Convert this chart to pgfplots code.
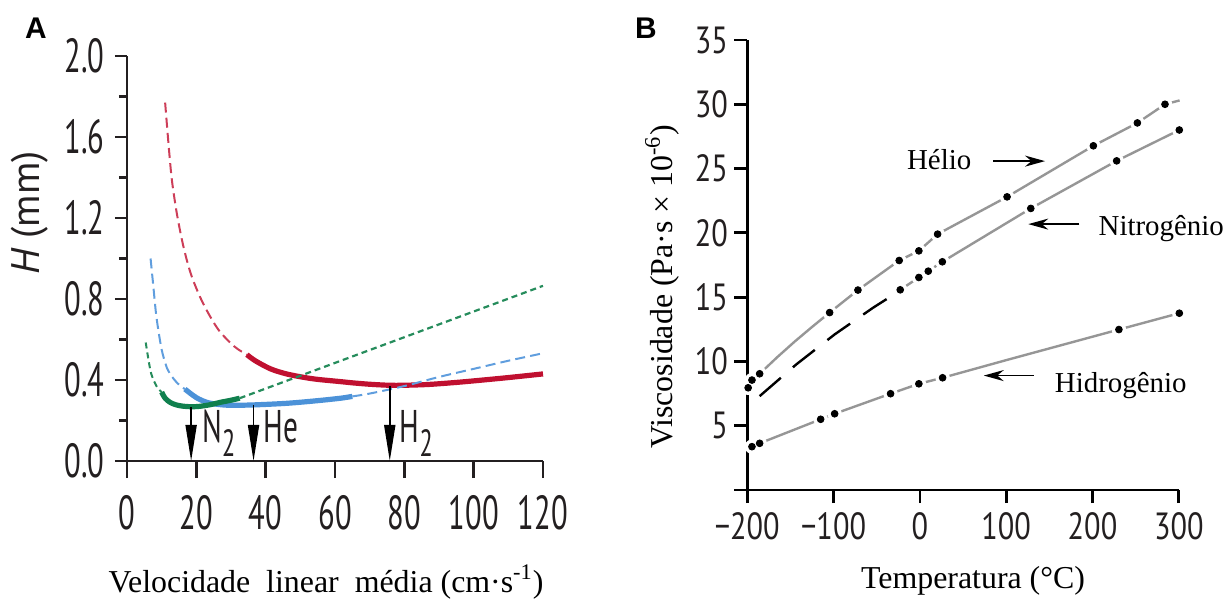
\documentclass[border=0pt]{standalone}
\usepackage{pgfplots}
\pgfplotsset{compat=1.18}
\usepackage{pgfplotstable}
\usepackage{fontspec}
\setmainfont{Liberation Serif}
\newfontfamily\tickA{PT Sans}[FakeStretch=0.64]
\newfontfamily\tickB{PT Sans}[FakeStretch=0.8]
\newfontfamily\sansF{PT Sans}
\newfontfamily\arial{Liberation Sans}
\usetikzlibrary{arrows.meta}

\definecolor{hred}{RGB}{192,16,48}
\definecolor{hredl}{RGB}{205,62,88}
\definecolor{hblue}{RGB}{76,146,216}
\definecolor{hbluel}{RGB}{96,158,222}
\definecolor{hgreen}{RGB}{16,128,78}
\definecolor{hgreenl}{RGB}{38,140,92}
\definecolor{lgray}{RGB}{150,150,150}
\definecolor{tickc}{RGB}{35,31,32}

% Panel B data
\pgfplotstableread{
x y
-200 7.95
-194.6 8.55
-185.7 9.04
-165 10.35
-145 11.55
-125 12.68
-104.6 13.8
-71.8 15.55
-24 17.85
-1.2 18.6
20.5 19.9
101 22.8
201 26.77
252 28.55
284 30.0
301 30.3
}\heline
\pgfplotstableread{
x y
-199 7.95
-194.6 8.55
-185.7 9.04
-104.6 13.8
-71.8 15.55
-24 17.85
-1.2 18.6
20.5 19.9
101 22.8
201 26.77
252 28.55
284 30.0
}\hemarks
\pgfplotstableread{
x y
-22.8 15.57
-1.2 16.53
9.7 17.02
26 17.75
128.5 21.9
228 25.6
300.6 28.0
}\nitro
\pgfplotstableread{
x y
-185.7 7.3
-143.2 9.77
-98.8 12.1
-54.4 14.17
-28 15.3
}\nitrodash
\pgfplotstableread{
x y
-200 3.2
-194.6 3.37
-185.7 3.63
-115 5.5
-98.8 5.93
-34 7.49
-1.2 8.26
26.3 8.73
100 10.1
230.6 12.48
300.6 13.75
}\hyline
\pgfplotstableread{
x y
-194.6 3.37
-185.7 3.63
-115 5.5
-98.8 5.93
-34 7.49
-1.2 8.26
26.3 8.73
230.6 12.48
300.6 13.75
}\hymarks

\begin{document}
\begin{tikzpicture}
\useasboundingbox (0,0) rectangle (612bp,300.5bp);

% ---------------- Panel A ----------------
\begin{axis}[
  at={(63.5bp,70bp)}, anchor=south west, scale only axis,
  width=208bp, height=202.5bp,
  xmin=0, xmax=120, ymin=0, ymax=2.0,
  axis x line*=bottom, axis y line*=left,
  axis line style={line width=1.2bp, tickc},
  tick align=outside,
  minor tick length=4bp,
  xtick={0,20,40,60,80,100,120},
  xticklabels={0,20,40,60,80,100,120},
  ytick={0,0.4,0.8,1.2,1.6,2.0},
  yticklabels={0.0,0.4,0.8,1.2,1.6,2.0},
  minor ytick={0.2,0.6,1.0,1.4,1.8},
  xtick style={/pgfplots/major tick length=8.5bp, line width=1.2bp, tickc},
  ytick style={/pgfplots/major tick length=6bp, line width=1.2bp, tickc},
  xticklabel style={font=\tickA\fontsize{24}{24}\selectfont, text=tickc, yshift=-9.5bp},
  yticklabel style={font=\tickA\fontsize{24}{24}\selectfont, text=tickc, xshift=-3.5bp},
  clip=false,
]
% red (H2)
\addplot[hredl, line width=1bp, dash pattern=on 5bp off 2.6bp, smooth] coordinates {
 (11.0,1.77) (12.1,1.54) (13.0,1.38) (14.5,1.21) (16.4,1.05) (18.6,0.915)
 (21.9,0.78) (26.3,0.65) (31,0.565) (34.6,0.525)};
\addplot[hred, line width=2.6bp, smooth] coordinates {
 (34.6,0.525) (37,0.495) (41.4,0.455) (46,0.43) (51,0.413) (55,0.403) (61.6,0.392)
 (65,0.386) (70,0.379) (75.6,0.374) (80,0.374) (87,0.378) (95,0.388)
 (101.5,0.398) (110,0.412) (120,0.43)};
% blue (He)
\addplot[hbluel, line width=1bp, dash pattern=on 5bp off 2.6bp, smooth] coordinates {
 (6.8,1.0) (7.5,0.88) (8.5,0.71) (10,0.55) (11.5,0.46) (12.4,0.43) (14.5,0.385) (16.7,0.355)};
\addplot[hblue, line width=2.6bp, smooth] coordinates {
 (16.7,0.355) (20,0.313) (23,0.29) (26,0.28) (29.8,0.275) (36.5,0.277)
 (46.2,0.285) (55,0.298) (61.6,0.31) (65,0.319)};
\addplot[hbluel, line width=1bp, dash pattern=on 5bp off 2.6bp, smooth] coordinates {
 (65,0.319) (70,0.333) (80,0.37) (90,0.415) (100,0.455) (110,0.495) (120,0.532)};
% green (N2)
\addplot[hgreenl, line width=1bp, dash pattern=on 3bp off 2bp, smooth] coordinates {
 (5.4,0.585) (6.2,0.5) (7,0.43) (8.5,0.37) (10,0.34)};
\addplot[hgreen, line width=2.6bp, smooth] coordinates {
 (10,0.34) (11,0.31) (12.4,0.29) (14,0.278) (16,0.271) (18.6,0.268)
 (21,0.27) (24,0.278) (27,0.29) (30,0.30) (32.5,0.31)};
\addplot[hgreenl, line width=1.1bp, dash pattern=on 3bp off 2bp] coordinates {
 (32.5,0.31) (120,0.865)};
% arrows
\draw[-{Triangle[length=18bp,width=5.5bp]}, line width=0.9bp] (axis cs:18.5,0.265) -- (axis cs:18.5,0);
\draw[-{Triangle[length=18bp,width=5.5bp]}, line width=0.9bp] (axis cs:36.5,0.275) -- (axis cs:36.5,0);
\draw[-{Triangle[length=18bp,width=5.5bp]}, line width=0.9bp] (axis cs:75.8,0.37) -- (axis cs:75.8,0);
\node[anchor=base west, inner sep=0pt, font=\tickA\fontsize{23}{23}\selectfont, text=tickc] at (axis cs:21.6,0.089) {N\raisebox{-0.3em}{\fontsize{19}{19}\selectfont 2}};
\node[anchor=base west, inner sep=0pt, font=\tickA\fontsize{23}{23}\selectfont, text=tickc] at (axis cs:39.2,0.089) {He};
\node[anchor=base west, inner sep=0pt, font=\tickA\fontsize{23}{23}\selectfont, text=tickc] at (axis cs:78.6,0.089) {H\raisebox{-0.3em}{\fontsize{19}{19}\selectfont 2}};
\end{axis}

% ---------------- Panel B ----------------
\begin{axis}[
  at={(373.65bp,55.5bp)}, anchor=south west, scale only axis,
  width=215.75bp, height=225bp,
  xmin=-200, xmax=300, ymin=0, ymax=35,
  axis x line*=bottom, axis y line*=left,
  axis line style={line width=1.4bp, black},
  tick align=outside,
  axis on top,
  xtick={-200,-100,0,100,200,300},
  xticklabels={−200,−100,0,100,200,300},
  ytick={0,5,10,15,20,25,30,35},
  yticklabels={,5,10,15,20,25,30,35},
  xtick style={/pgfplots/major tick length=6.5bp, line width=1.4bp, black},
  ytick style={/pgfplots/major tick length=6.5bp, line width=1.4bp, black},
  xticklabel style={font=\tickB\fontsize{19}{19}\selectfont, text=tickc, yshift=-3.5bp},
  yticklabel style={font=\tickB\fontsize{19}{19}\selectfont, text=tickc, xshift=-2bp},
  clip=false,
]
\addplot[lgray, line width=1.2bp] table {\heline};
\addplot[lgray, line width=1.2bp] table {\nitro};
\addplot[black, line width=1.2bp, dash pattern=on 14bp off 8bp] table {\nitrodash};
\addplot[lgray, line width=1.2bp] table {\hyline};
% gaps around points
\addplot[white, only marks, mark=*, mark size=3.4bp, mark options={draw=white, fill=white}] table {\hemarks};
\addplot[white, only marks, mark=*, mark size=3.4bp, mark options={draw=white, fill=white}] table {\nitro};
\addplot[white, only marks, mark=*, mark size=3.4bp, mark options={draw=white, fill=white}] table {\hymarks};
% dots
\addplot[black, only marks, mark=*, mark size=1.7bp, mark options={draw=black, fill=black}] table {\hemarks};
\addplot[black, only marks, mark=*, mark size=1.7bp, mark options={draw=black, fill=black}] table {\nitro};
\addplot[black, only marks, mark=*, mark size=1.7bp, mark options={draw=black, fill=black}] table {\hymarks};
% annotations
\node[anchor=base east, inner sep=0pt, font=\fontsize{14.5}{15}\selectfont] at (axis cs:60,24.94) {Hélio};
\draw[-{Stealth[length=10bp,width=5.5bp]}, line width=0.9bp] (axis cs:85,25.58) -- (axis cs:145,25.58);
\node[anchor=base west, inner sep=0pt, font=\fontsize{14.5}{15}\selectfont] at (axis cs:206.7,19.83) {Nitrogênio};
\draw[-{Stealth[length=10bp,width=5.5bp]}, line width=0.9bp] (axis cs:184.8,20.68) -- (axis cs:125.6,20.68);
\node[anchor=base west, inner sep=0pt, font=\fontsize{14.5}{15}\selectfont] at (axis cs:156,7.6) {Hidrogênio};
\draw[-{Stealth[length=10bp,width=5.5bp]}, line width=0.9bp] (axis cs:132,8.9) -- (axis cs:74,8.9);
\end{axis}

% panel letters and axis titles
\node[font=\arial\bfseries\fontsize{15}{15}\selectfont] at (18bp,286.5bp) {A};
\node[font=\arial\bfseries\fontsize{15}{15}\selectfont] at (323bp,286.5bp) {B};
\node[anchor=base, inner sep=0pt, font=\fontsize{16}{16}\selectfont] at (163bp,4.5bp) {Velocidade\ \ linear\ \ média (cm·s\textsuperscript{-1})};
\node[rotate=90, inner sep=0pt, font=\sansF\fontsize{20}{20}\selectfont, text=tickc] at (15bp,194bp) {{\itshape H} (mm)};
\node[anchor=base, inner sep=0pt, font=\fontsize{16}{16}\selectfont] at (486.5bp,6.5bp) {Temperatura (°C)};
\node[rotate=90, inner sep=0pt, font=\fontsize{16}{16}\selectfont] at (331bp,157bp) {Viscosidade (Pa·s × 10\textsuperscript{-6})};
\end{tikzpicture}
\end{document}
